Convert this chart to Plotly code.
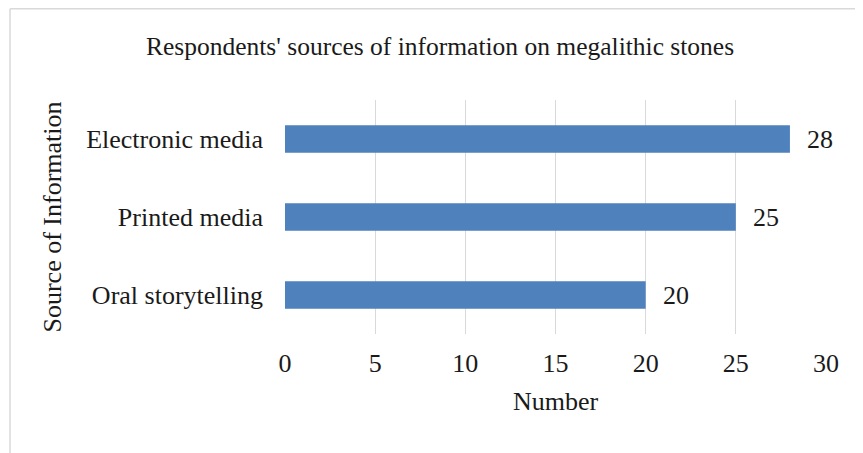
import plotly.graph_objects as go

categories = ["Oral storytelling", "Printed media", "Electronic media"]
values = [20, 25, 28]
x_ticks = [0, 5, 10, 15, 20, 25, 30]

FONT = "Liberation Serif, Times New Roman, serif"
W, H = 863, 453
OFF = 8  # page body margin offset
L, R, T, B = 285 - OFF, 45, 100 - OFF, 127
pw = W - L - R
ph = H - T - B
FS = 26

fig = go.Figure(go.Bar(
    y=categories, x=values, orientation="h",
    marker=dict(color="#4f81bd", line=dict(width=0)),
    width=0.35,
))

for c, v in zip(categories, values):
    fig.add_annotation(x=v, y=c, text=str(v), showarrow=False, xanchor="left",
                       xshift=15, font=dict(family=FONT, size=FS, color="#1a1a1a"))

def px_x(p):
    return (p - L) / pw

def px_y(p):
    return 1 - (p - T) / ph

fig.update_layout(
    width=W, height=H,
    margin=dict(l=L, r=R, t=T, b=B),
    paper_bgcolor="white", plot_bgcolor="white",
    font=dict(family=FONT, size=FS, color="#1a1a1a"),
    showlegend=False,
    title=dict(text="Respondents' sources of information on megalithic stones",
               x=(440 - OFF) / W, xanchor="center", y=1 - (46 - OFF) / H, yanchor="middle",
               font=dict(family=FONT, size=25.5, color="#1a1a1a")),
    xaxis=dict(range=[0, 30], tickvals=x_ticks, showgrid=True, gridcolor="#d9d9d9",
               gridwidth=1, zeroline=False, showline=False, ticks="",
               tickfont=dict(family=FONT, size=FS), ticklabelstandoff=11,
               title=dict(text="Number", font=dict(family=FONT, size=FS), standoff=14)),
    yaxis=dict(showgrid=False, zeroline=False, showline=False, ticks="",
               tickfont=dict(family=FONT, size=FS), ticklabelstandoff=21,
               range=[-0.5, 2.5],
               title=dict(text="Source of Information", font=dict(family=FONT, size=FS), standoff=17)),
    shapes=[
        dict(type="line", xref="paper", yref="paper", x0=px_x(2), x1=px_x(880),
             y0=px_y(0.8), y1=px_y(0.8), line=dict(color="#d9d9d9", width=1.5)),
        dict(type="line", xref="paper", yref="paper", x0=px_x(2), x1=px_x(2),
             y0=px_y(0.8), y1=px_y(470), line=dict(color="#d9d9d9", width=1.5)),
    ],
)

fig.write_html("out.html")
